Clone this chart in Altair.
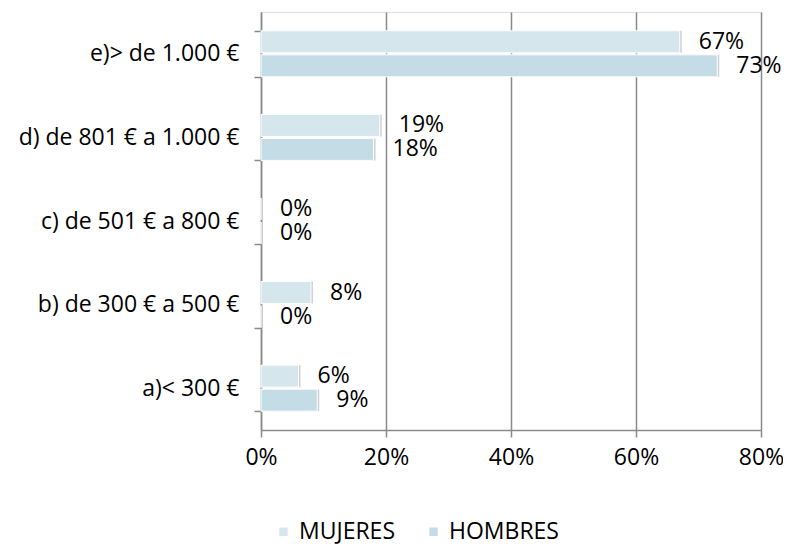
import altair as alt
import pandas as pd

categories = ["e)> de 1.000 €", "d) de 801 € a 1.000 €", "c) de 501 € a 800 €",
              "b) de 300 € a 500 €", "a)< 300 €"]
series = ["MUJERES", "HOMBRES"]
mujeres = [0.67, 0.19, 0.0, 0.08, 0.06]
hombres = [0.73, 0.18, 0.0, 0.0, 0.09]
x_ticks = [0, 0.2, 0.4, 0.6, 0.8]
colors = ["#d5e6ed", "#c4dce5"]

rows = []
for c, m, h in zip(categories, mujeres, hombres):
    rows.append({"cat": c, "serie": "MUJERES", "val": m})
    rows.append({"cat": c, "serie": "HOMBRES", "val": h})
df = pd.DataFrame(rows)

FONT = "Open Sans"
FS = 23

y_enc = alt.Y("cat:N", sort=categories, title=None,
              scale=alt.Scale(paddingInner=0.45, paddingOuter=0.225),
              axis=alt.Axis(tickBand="extent", tickSize=7, labelPadding=15,
                            domainColor="#8a8a8a", tickColor="#8a8a8a",
                            domainWidth=1.5, tickWidth=1.5,
                            labelFont=FONT, labelFontSize=FS, labelColor="#000",
                            labelLimit=400))
x_enc = alt.X("val:Q", title=None,
              scale=alt.Scale(domain=[0, 0.8], nice=False),
              axis=alt.Axis(values=x_ticks, format=".0%", tickSize=7, labelPadding=9,
                            labelFlush=False,
                            grid=True, gridColor="#8a8a8a", gridWidth=1.5,
                            domainColor="#8a8a8a", tickColor="#8a8a8a",
                            domainWidth=1.5, tickWidth=1.5,
                            labelFont=FONT, labelFontSize=FS, labelColor="#000"))
yoff = alt.YOffset("serie:N", sort=series,
                   scale=alt.Scale(paddingInner=0.0833, paddingOuter=0))

base = alt.Chart(df)

shadow = base.mark_bar(color="#000000", opacity=0.18, xOffset=2, yOffset=2).encode(
    x=x_enc, y=y_enc, yOffset=yoff)

bars = base.mark_bar(stroke="white", strokeWidth=1).encode(
    x=x_enc, y=y_enc, yOffset=yoff,
    color=alt.Color("serie:N", sort=series,
                    scale=alt.Scale(domain=series, range=colors),
                    legend=alt.Legend(title=None, orient="none", legendX=11, legendY=508,
                                      direction="horizontal", symbolType="square",
                                      symbolSize=70, symbolStrokeWidth=0,
                                      labelFont=FONT, labelFontSize=FS, labelColor="#000",
                                      labelOffset=4, columnPadding=27)))

labels = base.mark_text(align="left", baseline="middle", dx=19, font=FONT,
                        fontSize=FS, color="#000").encode(
    x=x_enc, y=y_enc, yOffset=yoff, text=alt.Text("val:Q", format=".0%"))

chart = alt.layer(shadow, bars, labels).properties(
    width=500, height=418,
    autosize=alt.AutoSizeParams(type="none"),
    padding={"left": 253, "top": 4, "right": 22, "bottom": 125},
).configure_view(stroke=None).configure(background="white")

chart.save("out.html", embed_options={"renderer": "svg", "actions": False})
